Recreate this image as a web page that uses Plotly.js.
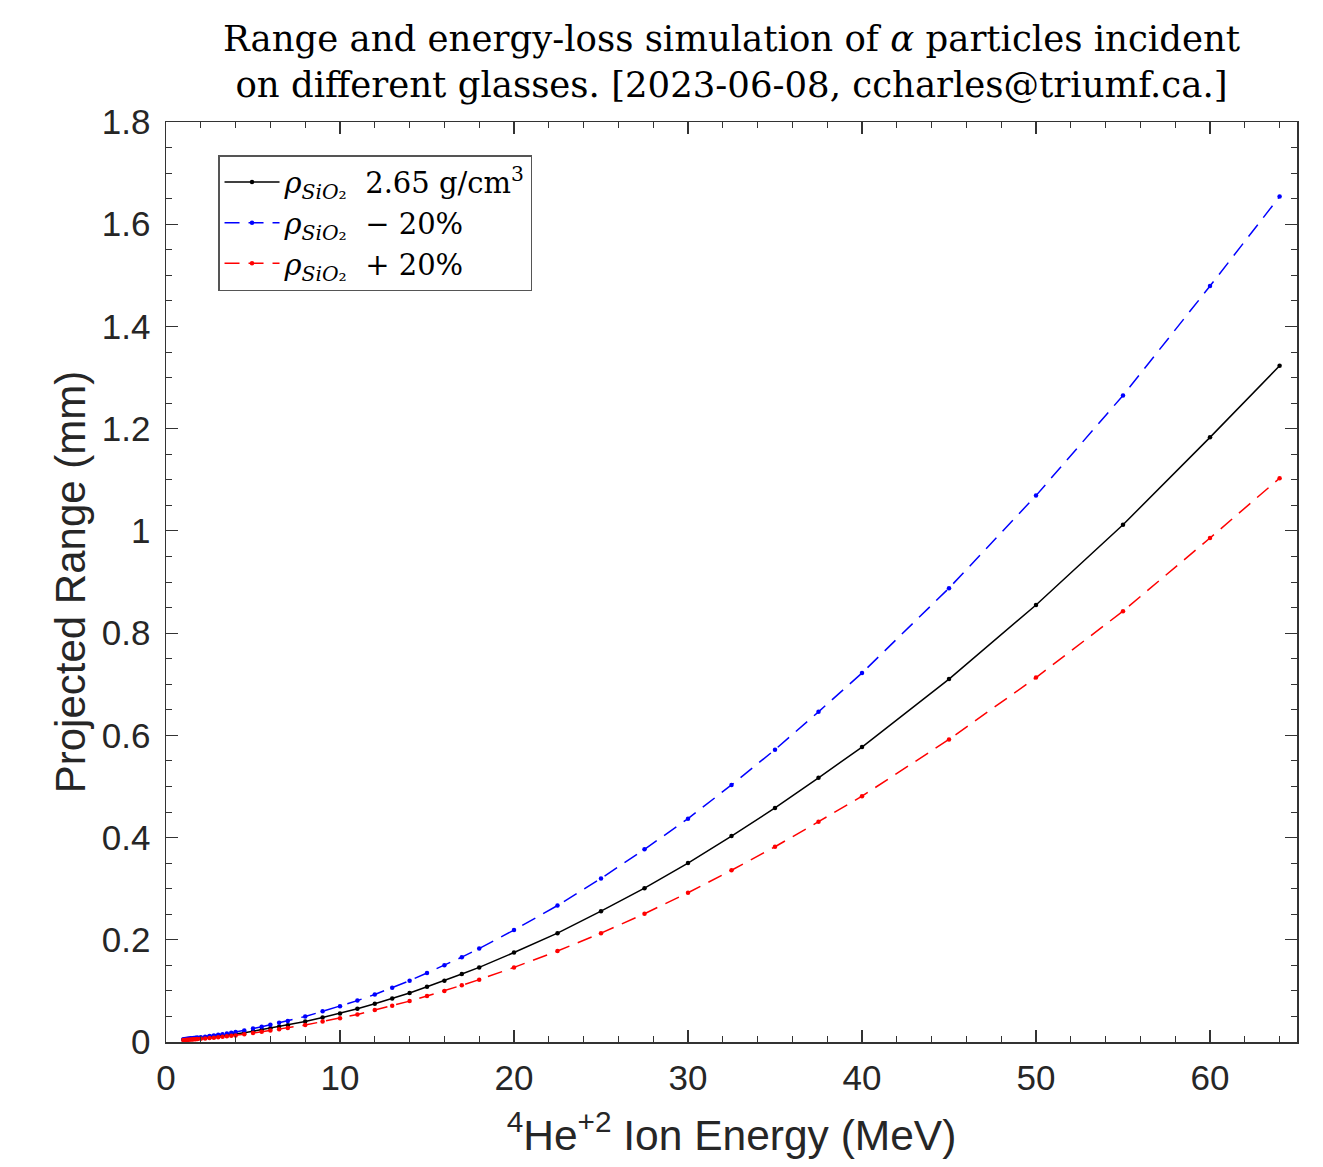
<!DOCTYPE html>
<html>
<head>
<meta charset="utf-8">
<script src="https://cdn.plot.ly/plotly-3.0.1.min.js"></script>
<style>html,body{margin:0;padding:0;background:#fff;}#chart{width:1323px;height:1167px;}</style>
</head>
<body>
<div id="chart"></div>
<script>
// Ion energy (MeV)
const energy = [1,1.1,1.2,1.3,1.4,1.5,1.6,1.7,1.8,2,2.25,2.5,2.75,3,3.25,3.5,3.75,4,4.5,5,5.5,6,6.5,7,8,9,10,11,12,13,14,15,16,17,18,20,22.5,25,27.5,30,32.5,35,37.5,40,45,50,55,60,64];
// Projected range (mm), nominal density 2.65 g/cm3
const rangeNominal = [0.0045,0.0048,0.0051,0.0054,0.0057,0.0060,0.0063,0.0066,0.0069,0.0076,0.0084,0.0093,0.0102,0.0112,0.0122,0.0133,0.0145,0.0155,0.018,0.021,0.024,0.027,0.030,0.033,0.040,0.048,0.056,0.065,0.075,0.085,0.096,0.108,0.120,0.133,0.146,0.175,0.213,0.256,0.301,0.350,0.403,0.458,0.517,0.577,0.710,0.855,1.012,1.183,1.323];
// density - 20%
const rangeMinus20 = [0.0056,0.0060,0.0064,0.0068,0.0071,0.0075,0.0079,0.0083,0.0086,0.0095,0.0105,0.0116,0.0128,0.0140,0.0153,0.0166,0.0181,0.0194,0.0225,0.0262,0.030,0.0338,0.0375,0.0413,0.050,0.060,0.070,0.081,0.093,0.106,0.120,0.135,0.150,0.166,0.183,0.219,0.267,0.320,0.377,0.437,0.503,0.572,0.646,0.722,0.888,1.069,1.265,1.479,1.654];
// density + 20%
const rangePlus20 = [0.0038,0.0040,0.0043,0.0045,0.0048,0.0050,0.0053,0.0055,0.0058,0.0063,0.0070,0.0078,0.0085,0.0093,0.0102,0.0111,0.0121,0.0129,0.0150,0.0175,0.020,0.0225,0.025,0.0275,0.0333,0.040,0.0467,0.054,0.0625,0.071,0.080,0.090,0.100,0.111,0.122,0.146,0.178,0.213,0.251,0.292,0.336,0.382,0.431,0.481,0.592,0.713,0.843,0.986,1.103];

const seriesNames = [
  '<i>ρ</i><sub><i>SiO</i>₂</sub>\u00A0 2.65 g/cm<sup>3</sup>',
  '<i>ρ</i><sub><i>SiO</i>₂</sub>\u00A0 − 20%',
  '<i>ρ</i><sub><i>SiO</i>₂</sub>\u00A0 + 20%'
];

const axisColor = '#333333';
const sansFamily = 'Liberation Sans, Arial, sans-serif';
const serifFamily = 'DejaVu Serif, Liberation Serif, serif';

const traces = [
  {x: energy, y: rangeNominal, name: seriesNames[0], mode: 'lines+markers',
   line: {color: '#000000', width: 1.5}, marker: {color: '#000000', size: 4.5}},
  {x: energy, y: rangeMinus20, name: seriesNames[1], mode: 'lines+markers',
   line: {color: '#0000ff', width: 1.5, dash: '15px,9px'}, marker: {color: '#0000ff', size: 4.5}},
  {x: energy, y: rangePlus20, name: seriesNames[2], mode: 'lines+markers',
   line: {color: '#ff0000', width: 1.5, dash: '15px,9px'}, marker: {color: '#ff0000', size: 4.5}}
];

const layout = {
  width: 1323, height: 1167,
  paper_bgcolor: '#ffffff', plot_bgcolor: '#ffffff',
  margin: {l: 166, r: 26, t: 122, b: 125},
  showlegend: true,
  title: {
    text: 'Range and energy-loss simulation of <i>α</i> particles incident<br>on different glasses. [2023-06-08, ccharles@triumf.ca.]',
    font: {family: serifFamily, size: 35.5, color: '#000'},
    x: 0.5, xref: 'paper', xanchor: 'center',
    y: 0.956, yref: 'container', yanchor: 'bottom'
  },
  xaxis: {
    range: [0, 65], dtick: 10, tick0: 0,
    showgrid: false, zeroline: false,
    showline: true, linecolor: axisColor, linewidth: 1.5, mirror: 'ticks',
    ticks: 'inside', ticklen: 12, tickwidth: 1.2, tickcolor: axisColor,
    minor: {dtick: 2, ticks: 'inside', ticklen: 6, tickwidth: 1, tickcolor: axisColor, showgrid: false},
    tickfont: {family: sansFamily, size: 35, color: '#262626'},
    ticklabelstandoff: 4,
    title: {text: '<sup>4</sup>He<sup>+2</sup> Ion Energy (MeV)', font: {family: sansFamily, size: 42.5, color: '#262626'}, standoff: 24}
  },
  yaxis: {
    range: [0, 1.8], dtick: 0.2, tick0: 0,
    showgrid: false, zeroline: false,
    showline: true, linecolor: axisColor, linewidth: 1.5, mirror: 'ticks',
    ticks: 'inside', ticklen: 12, tickwidth: 1.2, tickcolor: axisColor,
    minor: {dtick: 0.05, ticks: 'inside', ticklen: 6, tickwidth: 1, tickcolor: axisColor, showgrid: false},
    tickfont: {family: sansFamily, size: 35, color: '#262626'},
    ticklabelstandoff: 7,
    title: {text: 'Projected Range (mm)', font: {family: sansFamily, size: 42, color: '#262626'}, standoff: 3}
  },
  legend: {
    x: 0.046, y: 0.964, xanchor: 'left', yanchor: 'top',
    bgcolor: '#ffffff', bordercolor: '#555555', borderwidth: 1.5,
    font: {family: serifFamily, size: 29, color: '#000'},
    tracegroupgap: 0, itemwidth: 55
  }
};

Plotly.newPlot('chart', traces, layout, {displayModeBar: false, staticPlot: true});
</script>
</body>
</html>
